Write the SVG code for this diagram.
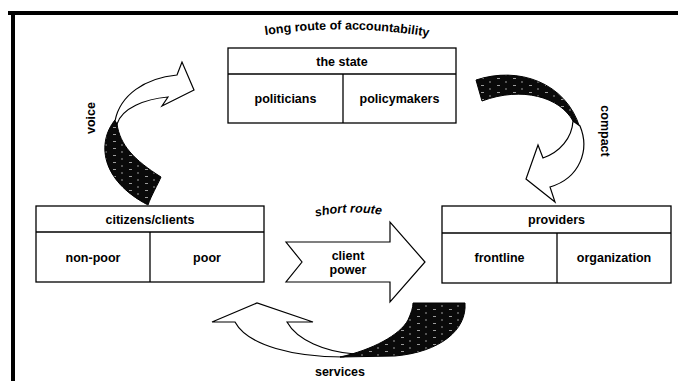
<svg xmlns="http://www.w3.org/2000/svg" width="678" height="381" viewBox="0 0 678 381">
<style>
text{font-family:"Liberation Sans",Arial,sans-serif;font-weight:bold;fill:#000}
.lbl{font-size:12.5px;text-anchor:middle}
.box{fill:#fff;stroke:#000;stroke-width:1.3}
.div{stroke:#000;stroke-width:1.3;fill:none}
.white{fill:#fff;stroke:#000;stroke-width:1.2;stroke-linejoin:miter}
.dark{fill:url(#hatch);stroke:#000;stroke-width:1}
</style>
<defs>
<pattern id="hatch" width="16" height="7" patternUnits="userSpaceOnUse">
<rect width="16" height="7" fill="#0a0a0a"/>
<path d="M1,1.5h3M9,5h2" stroke="#fff" stroke-width="0.6"/>
</pattern>
<path id="arcTop" d="M258,36 Q346,22 436,38"/>
<path id="arcShort" d="M315,217 Q348,209 382,215"/>
</defs>
<rect width="678" height="381" fill="#fff"/>
<g id="frame">
<line x1="8" y1="13" x2="678" y2="13" stroke="#000" stroke-width="4"/>
<line x1="13" y1="11" x2="13" y2="381" stroke="#000" stroke-width="4"/>
</g>
<text class="lbl"><textPath href="#arcTop" startOffset="50%">long route of accountability</textPath></text>
<g id="state">
<rect class="box" x="228" y="48" width="228" height="75"/>
<line class="div" x1="228" y1="74" x2="456" y2="74"/>
<line class="div" x1="343" y1="74" x2="343" y2="123"/>
<text class="lbl" x="342" y="65.5">the state</text>
<text class="lbl" x="285.5" y="103">politicians</text>
<text class="lbl" x="399.5" y="103">policymakers</text>
</g>
<g id="citizens">
<rect class="box" x="36" y="206" width="228" height="76"/>
<line class="div" x1="36" y1="232" x2="264" y2="232"/>
<line class="div" x1="150" y1="232" x2="150" y2="282"/>
<text class="lbl" x="150" y="223.5">citizens/clients</text>
<text class="lbl" x="93" y="261.5">non-poor</text>
<text class="lbl" x="207" y="261.5">poor</text>
</g>
<g id="providers">
<rect class="box" x="442" y="206" width="229" height="77"/>
<line class="div" x1="442" y1="233" x2="671" y2="233"/>
<line class="div" x1="557" y1="233" x2="557" y2="283"/>
<text class="lbl" x="556.5" y="224">providers</text>
<text class="lbl" x="499.5" y="262">frontline</text>
<text class="lbl" x="614" y="262">organization</text>
</g>
<g id="connectors">
<g id="voice">
<path class="dark" d="M115,120 C97,142 100,180 148,205 C151,196 158,184 161,177 C134,160 120,145 117,124 Z"/>
<path class="white" d="M115,121 C120,95 145,78 177,75 L182,62 L194,90 L162,106 L168,97 C145,99 122,108 117,124 Z"/>
<text class="lbl" transform="translate(95,118) rotate(-90)">voice</text>
</g>
<g id="compact">
<path class="dark" d="M476,80 C518,66 566,82 580,128 L573,121 C560,97 522,86 482,101 Z"/>
<path class="white" d="M580,126 C590,150 580,178 550,187 L555,202 L526,179 L538,145 L543,158 C560,152 572,138 573,121 Z"/>
<text class="lbl" transform="translate(601,131) rotate(90)">compact</text>
</g>
<g id="client-power">
<polygon class="white" points="286,242 390,242 390,222 425,262 390,302 390,282 286,282 302,262"/>
<text class="lbl" font-style="italic"><textPath href="#arcShort" startOffset="50%">short route</textPath></text>
<text class="lbl" x="348" y="260">client</text>
<text class="lbl" x="348" y="274">power</text>
</g>
<g id="services">
<path class="white" d="M235,322 L212,322 L257,303 L313,322 L287,322 C297,340 325,352 355,354 L343,357 C295,357 248,346 235,322 Z"/>
<path class="dark" d="M413,303 L465,303 C467,330 440,352 395,356 L340,357 C372,350 400,335 408,320 C411,313 413,308 413,303 Z"/>
<text class="lbl" x="340" y="376">services</text>
</g>
</g>
</svg>
